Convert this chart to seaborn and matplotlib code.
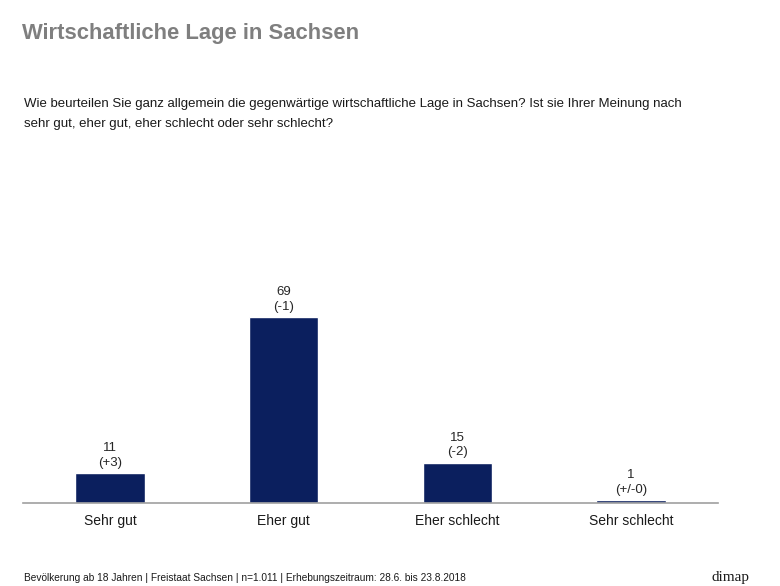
import pandas as pd
import seaborn as sns
import matplotlib.pyplot as plt

categories = ['Sehr gut', 'Eher gut', 'Eher schlecht', 'Sehr schlecht']
values = [11, 69, 15, 1]
changes = ['(+3)', '(-1)', '(-2)', '(+/-0)']

sns.set_style("white")
plt.rcParams['font.family'] = ['Liberation Sans', 'DejaVu Sans']

data = pd.DataFrame({'Antwort': categories, 'Prozent': values})

fig = plt.figure(figsize=(7.8, 5.86), dpi=100)
ax = fig.add_axes([23 / 780, 83 / 586, 695 / 780, 216 / 586])
sns.barplot(data=data, x='Antwort', y='Prozent', order=categories,
            color='#0b1f5e', saturation=1, width=0.4, ax=ax)

ax.set_xlim(-0.5, 3.5)
ax.set_ylim(0, 80)
ax.set_xlabel('')
ax.set_ylabel('')
ax.set_yticks([])
ax.tick_params(axis='x', length=0, labelsize=10, pad=8, colors='#1a1a1a')
for s in ['top', 'right', 'left']:
    ax.spines[s].set_visible(False)
ax.spines['bottom'].set_color('#a0a0a0')
ax.spines['bottom'].set_linewidth(1.2)

labels = [f'{v}\n{c}' for v, c in zip(values, changes)]
ax.bar_label(ax.containers[0], labels=labels, padding=3, fontsize=9.5,
             color='#262626', linespacing=1.3)

fig.text(22 / 780, 1 - 34 / 586, 'Wirtschaftliche Lage in Sachsen',
         fontsize=15.8, fontweight='bold', color='#7f7f7f', va='center')
fig.text(24 / 780, 1 - 114 / 586,
         'Wie beurteilen Sie ganz allgemein die gegenwärtige wirtschaftliche Lage in Sachsen? '
         'Ist sie Ihrer Meinung nach\nsehr gut, eher gut, eher schlecht oder sehr schlecht?',
         fontsize=9.5, color='#1a1a1a', va='center', linespacing=1.9)
fig.text(24 / 780, 1 - 578 / 586,
         'Bevölkerung ab 18 Jahren | Freistaat Sachsen | n=1.011 | '
         'Erhebungszeitraum: 28.6. bis 23.8.2018',
         fontsize=7.25, color='#1a1a1a', va='center')
fig.text(750 / 780, 1 - 578 / 586, 'dimap', fontsize=11,
         family=['Liberation Serif', 'DejaVu Serif'], color='#1a1a1a',
         ha='right', va='center')

plt.savefig('out.png', dpi=100)
